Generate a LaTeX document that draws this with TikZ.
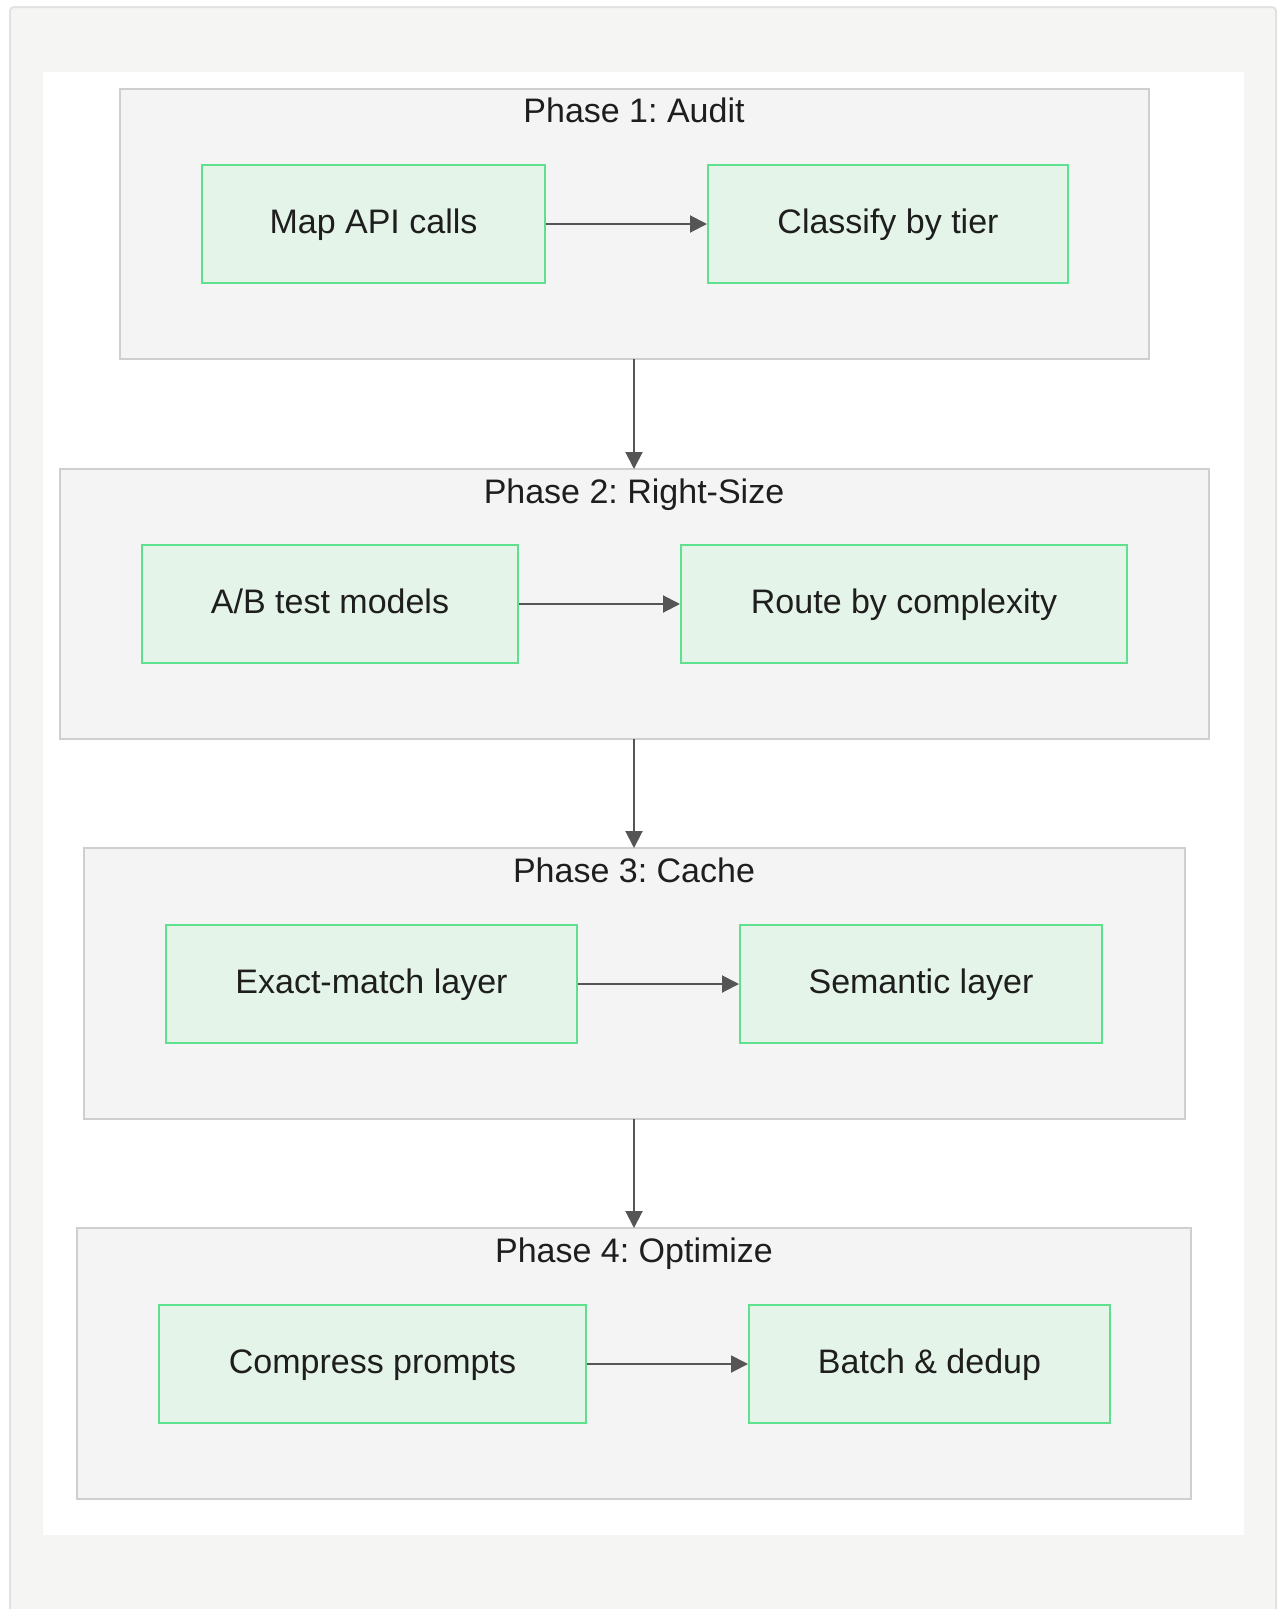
\documentclass[tikz,border=0pt]{standalone}
\usepackage{fontspec}
\setmainfont{Liberation Sans}
\usetikzlibrary{arrows.meta}
\definecolor{outerbg}{HTML}{F5F5F3}
\definecolor{outerline}{HTML}{E2E2E2}
\definecolor{clusterbg}{HTML}{F4F4F4}
\definecolor{clusterline}{HTML}{CFCFCF}
\definecolor{nodebg}{HTML}{E4F4E9}
\definecolor{nodeline}{HTML}{5EE08E}
\definecolor{arrowc}{HTML}{555555}
\definecolor{textc}{HTML}{1E1E1E}
\tikzset{
  x=1pt, y=-1pt,
  cluster/.style={draw=clusterline, fill=clusterbg, line width=2pt},
  stepbox/.style={draw=nodeline, fill=nodebg, line width=2pt},
  lbl/.style={text=textc, font=\frenchspacing\fontsize{34}{40}\selectfont, inner sep=0pt, text height=25pt, text depth=7pt},
  flow/.style={draw=arrowc, line width=2pt, -{Triangle[length=17pt,width=17pt]}},
}
\begin{document}
\begin{tikzpicture}
\useasboundingbox (0,0) rectangle (1278,1609);
% outer panel
\fill[outerbg] (10,7) rectangle (1276,1609);
\draw[outerline, line width=2pt, rounded corners=4pt] (10,1612) -- (10,7) -- (1276,7) -- (1276,1612);
\fill[white] (43,72) rectangle (1244,1535);

% clusters
\draw[cluster] (120,89) rectangle (1149,359);
\coordinate (c1bot) at (634,359);
\node[lbl] (t1) at (634,113) {Phase 1: Audit};

\draw[cluster] (60,469) rectangle (1209,739);
\coordinate (c2top) at (634,469);
\coordinate (c2bot) at (634,739);
\node[lbl] (t2) at (634,494) {Phase 2: Right-Size};

\draw[cluster] (84,848) rectangle (1185,1119);
\coordinate (c3top) at (634,848);
\coordinate (c3bot) at (634,1119);
\node[lbl] (t3) at (634,873) {Phase 3: Cache};

\draw[cluster] (77,1228) rectangle (1191,1499);
\coordinate (c4top) at (634,1228);
\node[lbl] (t4) at (634,1253) {Phase 4: Optimize};

% nodes
\node[stepbox, minimum width=343pt, minimum height=118pt] (a1) at (373.5,224) {};
\node[lbl] at (a1) {Map API calls};
\node[stepbox, minimum width=360pt, minimum height=118pt] (a2) at (888,224) {};
\node[lbl] at (a2) {Classify by tier};

\node[stepbox, minimum width=376pt, minimum height=118pt] (b1) at (330,604) {};
\node[lbl] at (b1) {A/B test models};
\node[stepbox, minimum width=446pt, minimum height=118pt] (b2) at (904,604) {};
\node[lbl] at (b2) {Route by complexity};

\node[stepbox, minimum width=411pt, minimum height=118pt] (d1) at (371.5,984) {};
\node[lbl] at (d1) {Exact-match layer};
\node[stepbox, minimum width=362pt, minimum height=118pt] (d2) at (921,984) {};
\node[lbl] at (d2) {Semantic layer};

\node[stepbox, minimum width=427pt, minimum height=118pt] (e1) at (372.5,1364) {};
\node[lbl] at (e1) {Compress prompts};
\node[stepbox, minimum width=361pt, minimum height=118pt] (e2) at (929.5,1364) {};
\node[lbl] at (e2) {Batch \& dedup};

% connectors
\draw[flow] (a1.east) -- (a2.west);
\draw[flow] (b1.east) -- (b2.west);
\draw[flow] (d1.east) -- (d2.west);
\draw[flow] (e1.east) -- (e2.west);
\draw[flow] (c1bot) -- (c2top);
\draw[flow] (c2bot) -- (c3top);
\draw[flow] (c3bot) -- (c4top);
\end{tikzpicture}
\end{document}
